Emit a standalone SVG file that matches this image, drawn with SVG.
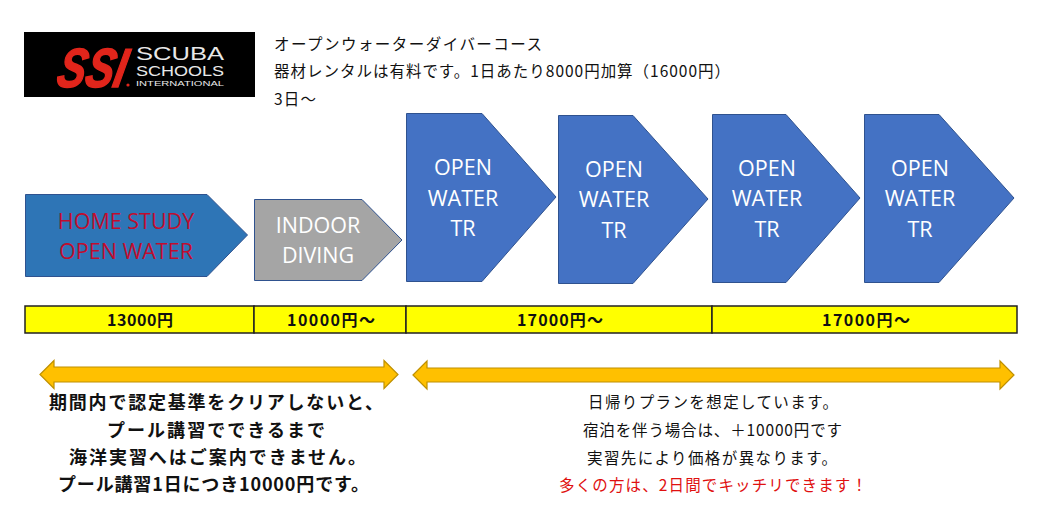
<svg xmlns="http://www.w3.org/2000/svg" width="1045" height="529" viewBox="0 0 1045 529">
<style>
text{font-family:"Noto Sans CJK JP","Noto Sans",sans-serif;text-anchor:start}
.lat{font-family:"Open Sans","Noto Sans",sans-serif;font-size:21.5px;text-anchor:middle}
.ow{fill:#4472c4;stroke:#2f528f;stroke-width:1}
.wt{fill:#fff}
.top{font-size:15.5px;fill:#111}
.bar{fill:#ffff00;stroke:#222;stroke-width:1.5}
.price{font-size:16px;font-weight:700;fill:#111}
.dbl{fill:#ffc000;stroke:#bf9000;stroke-width:1.2}
.nl{font-size:18px;font-weight:700;fill:#111}
.nr{font-size:15.5px;fill:#111}
.logo{font-family:"Liberation Sans",Arial,sans-serif;fill:#e8e8e8}
</style>
<rect width="1045" height="529" fill="#fff"/>
<g id="logo">
<rect x="24" y="32" width="231" height="65" fill="#000"/>
<text transform="translate(55 87) skewX(-12)" font-size="55" font-weight="700" font-style="italic" fill="#e1251b" stroke="#e1251b" stroke-width="1.5" textLength="68" lengthAdjust="spacingAndGlyphs" style="font-family:'Liberation Sans',Arial,sans-serif">SSI</text>
<circle cx="128" cy="85" r="1.6" fill="#e1251b"/>
<text class="logo" x="136" y="60" font-size="17.500" textLength="88" lengthAdjust="spacingAndGlyphs">SCUBA</text>
<text class="logo" x="136" y="76" font-size="14.500" textLength="88" lengthAdjust="spacingAndGlyphs">SCHOOLS</text>
<text class="logo" x="136" y="86" font-size="7.500" textLength="88" lengthAdjust="spacingAndGlyphs">INTERNATIONAL</text>
</g>
<g id="course-info">
<text class="top" x="274" y="50" textLength="268">オープンウォーターダイバーコース</text>
<text class="top" x="274" y="77" textLength="456">器材レンタルは有料です。1日あたり8000円加算（16000円）</text>
<text class="top" x="274" y="105" textLength="42">3日～</text>
</g>
<g id="home-study">
<polygon points="25.500,194.500 207,194.500 247.500,235 207,276.500 25.500,276.500" fill="#2e75b6" stroke="#2f528f"/>
<text class="lat" x="126" y="229" fill="#c00d2e">HOME STUDY</text>
<text class="lat" x="126" y="259" fill="#c00d2e">OPEN WATER</text>
</g>
<g id="indoor-diving">
<polygon points="254.500,199.500 362,199.500 402,240 362,280.500 254.500,280.500" fill="#a5a5a5" stroke="#2f528f"/>
<text class="lat wt" x="318" y="233">INDOOR</text>
<text class="lat wt" x="318" y="263">DIVING</text>
</g>
<g id="open-water-1">
<polygon class="ow" points="406.500,113.500 482,113.500 556,197 482,281.500 406.500,281.500"/>
<text class="lat wt" x="463" y="175">OPEN</text>
<text class="lat wt" x="463" y="206">WATER</text>
<text class="lat wt" x="463" y="236">TR</text>
</g>
<g id="open-water-2">
<polygon class="ow" points="558.500,115.500 633,115.500 708,199 633,283.500 558.500,283.500"/>
<text class="lat wt" x="614" y="177">OPEN</text>
<text class="lat wt" x="614" y="207">WATER</text>
<text class="lat wt" x="614" y="238">TR</text>
</g>
<g id="open-water-3">
<polygon class="ow" points="712.500,114.500 786,114.500 860,198 786,282.500 712.500,282.500"/>
<text class="lat wt" x="767" y="176">OPEN</text>
<text class="lat wt" x="767" y="206">WATER</text>
<text class="lat wt" x="767" y="237">TR</text>
</g>
<g id="open-water-4">
<polygon class="ow" points="864.500,114.500 939,114.500 1014,198 939,282.500 864.500,282.500"/>
<text class="lat wt" x="920" y="176">OPEN</text>
<text class="lat wt" x="920" y="206">WATER</text>
<text class="lat wt" x="920" y="237">TR</text>
</g>
<g id="price-bar">
<rect class="bar" x="25" y="306" width="229" height="27"/>
<rect class="bar" x="254" y="306" width="152" height="27"/>
<rect class="bar" x="406" y="306" width="306" height="27"/>
<rect class="bar" x="712" y="306" width="305" height="27"/>
<text class="price" x="107" y="326" textLength="66">13000円</text>
<text class="price" x="287" y="326" textLength="88">10000円～</text>
<text class="price" x="517" y="326" textLength="86">17000円～</text>
<text class="price" x="822" y="326" textLength="88">17000円～</text>
</g>
<g id="connectors">
<polygon class="dbl" points="40,374.500 54,360.500 54,367 384,367 384,360.500 398,374.500 384,388.500 384,382 54,382 54,388.500"/>
<polygon class="dbl" points="413,375 427,361 427,368 1000,368 1000,361 1014,375 1000,389 1000,382 427,382 427,389"/>
</g>
<g id="note-left">
<text class="nl" x="49" y="409" textLength="334">期間内で認定基準をクリアしないと、</text>
<text class="nl" x="107" y="437" textLength="218">プール講習でできるまで</text>
<text class="nl" x="69" y="464" textLength="297">海洋実習へはご案内できません。</text>
<text class="nl" x="58" y="491" textLength="311">プール講習1日につき10000円です。</text>
</g>
<g id="note-right">
<text class="nr" x="588" y="408" textLength="250">日帰りプランを想定しています。</text>
<text class="nr" x="583" y="436" textLength="259">宿泊を伴う場合は、＋10000円です</text>
<text class="nr" x="587" y="464" textLength="250">実習先により価格が異なります。</text>
<text class="nr" x="559" y="491" textLength="308" style="fill:#e01010">多くの方は、2日間でキッチリできます！</text>
</g>
</svg>
